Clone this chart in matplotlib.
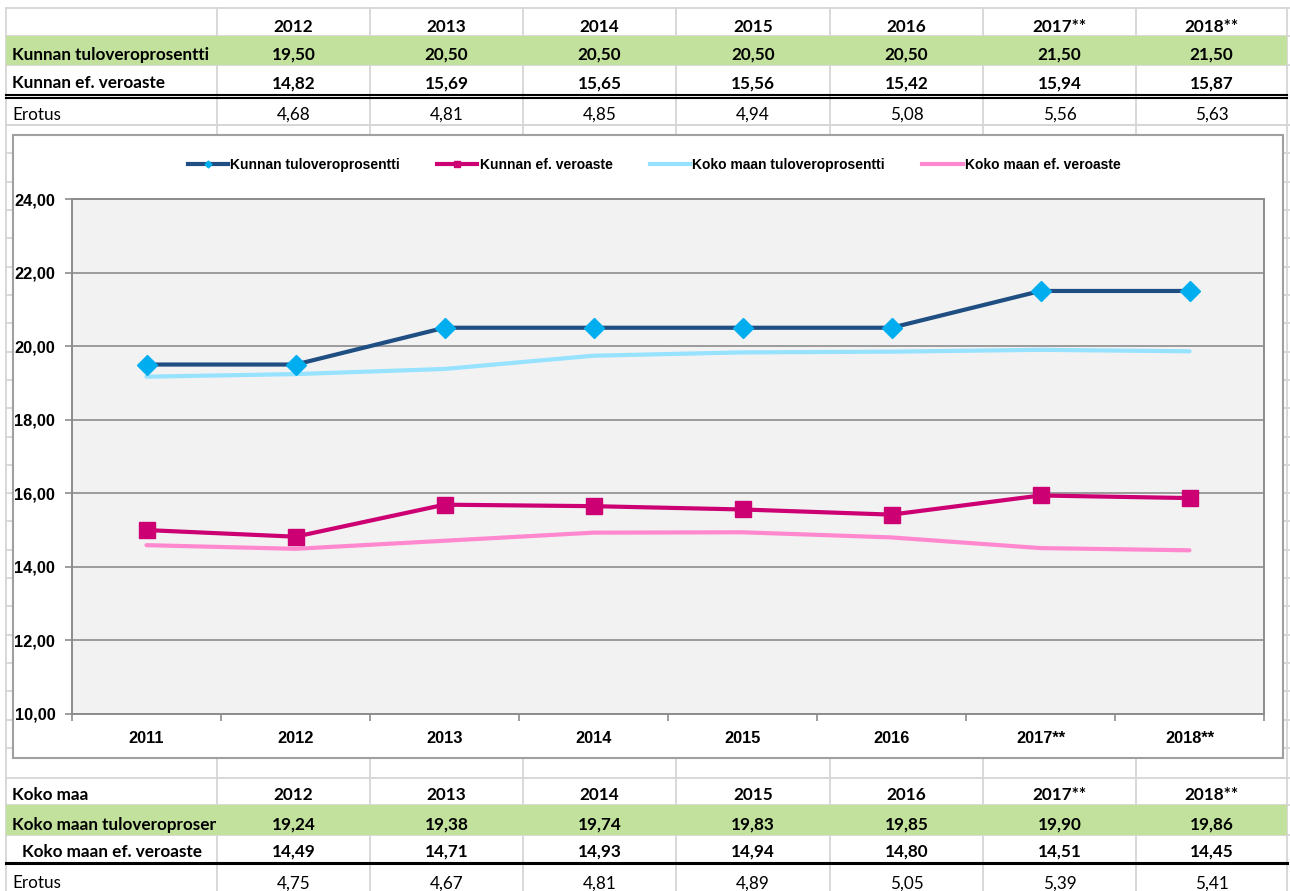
import numpy as np
import matplotlib
matplotlib.use("Agg")
import matplotlib.pyplot as plt
from matplotlib.patches import Rectangle
from matplotlib.lines import Line2D
from matplotlib.ticker import FuncFormatter
from matplotlib.transforms import Bbox, TransformedBbox

# ---------------- data ----------------
chart_years = ['2011', '2012', '2013', '2014', '2015', '2016', '2017**', '2018**']
table_years = chart_years[1:]
kunta_tulovero = [19.50, 19.50, 20.50, 20.50, 20.50, 20.50, 21.50, 21.50]
kunta_ef = [15.00, 14.82, 15.69, 15.65, 15.56, 15.42, 15.94, 15.87]
maa_tulovero = [19.17, 19.24, 19.38, 19.74, 19.83, 19.85, 19.90, 19.86]
maa_ef = [14.59, 14.49, 14.71, 14.93, 14.94, 14.80, 14.51, 14.45]

series_names = ['Kunnan tuloveroprosentti', 'Kunnan ef. veroaste',
                'Koko maan tuloveroprosentti', 'Koko maan ef. veroaste']

def fmt(v):
    return f"{v:.2f}".replace('.', ',')

W, H = 1290, 891
fig = plt.figure(figsize=(W / 100, H / 100), dpi=100)
bg = fig.add_axes([0, 0, 1, 1])
bg.set_xlim(0, W)
bg.set_ylim(H, 0)
bg.axis('off')

GRID = '#D6D6D6'
GREEN = '#C2E19D'
TFONT = 'Lato'
TS = 12.3

col_edges = [6, 217, 370, 523, 676, 830, 983, 1136, 1287]
centers = [(col_edges[i] + col_edges[i + 1]) / 2 for i in range(1, 8)]

# spreadsheet gridlines
for x in col_edges:
    bg.plot([x, x], [8, H], color=GRID, lw=1.3, zorder=1)
row_lines = [8, 36, 65, 125] + list(np.linspace(125, 748, 23)) + [778, 805, 835]
for y in row_lines:
    bg.plot([col_edges[0], W], [y, y], color=GRID, lw=1.3, zorder=1)

# green rows
for (y0, y1) in [(36, 65), (805, 835)]:
    bg.add_patch(Rectangle((col_edges[0], y0), col_edges[-1] - col_edges[0], y1 - y0,
                           facecolor=GREEN, edgecolor='none', zorder=2))
# black lines
bg.plot([col_edges[0], col_edges[-1]], [94.8, 94.8], color='black', lw=1.5, zorder=3)
bg.plot([col_edges[0], col_edges[-1]], [98.0, 98.0], color='black', lw=1.5, zorder=3)
bg.plot([col_edges[0], col_edges[-1]], [863, 863], color='black', lw=2.2, zorder=3)


def row(label, values, base, bold=True, label_center=False, clip=False, strings=None):
    fw = 'bold' if bold else 'normal'
    if label:
        if label_center:
            t = bg.text((col_edges[0] + col_edges[1]) / 2, base, label, ha='center', va='baseline',
                        fontsize=TS, fontweight=fw, family=TFONT, zorder=4)
        else:
            t = bg.text(12, base, label, ha='left', va='baseline',
                        fontsize=TS, fontweight=fw, family=TFONT, zorder=4)
        if clip:
            bb = Bbox.from_extents(col_edges[0], base - 30, col_edges[1] - 1.5, base + 10)
            t.set_clip_box(TransformedBbox(bb, bg.transData))
            t.set_clip_on(True)
    vals = strings if strings is not None else [fmt(v) for v in values]
    for cx, s in zip(centers, vals):
        bg.text(cx, base, s, ha='center', va='baseline', fontsize=TS,
                fontweight=fw, family=TFONT, zorder=4)


# top table
row('', None, 31.5, strings=table_years)
row('Kunnan tuloveroprosentti', kunta_tulovero[1:], 60)
row('Kunnan ef. veroaste', kunta_ef[1:], 88.5)
row('Erotus', [a - b for a, b in zip(kunta_tulovero[1:], kunta_ef[1:])], 120, bold=False)
# bottom table
row('Koko maa', None, 800.5, strings=table_years)
row('Koko maan tuloveroprosentti', maa_tulovero[1:], 830, clip=True)
row('Koko maan ef. veroaste', maa_ef[1:], 857, label_center=True)
row('Erotus', [a - b for a, b in zip(maa_tulovero[1:], maa_ef[1:])], 888.5, bold=False)

# chart box
bg.add_patch(Rectangle((13, 135), 1283 - 13, 758 - 135, facecolor='white',
                       edgecolor='#A0A0A0', lw=1.5, zorder=5))

# ---------------- chart ----------------
L, R, T, B = 72, 1264, 199, 714
ax = fig.add_axes([L / W, 1 - B / H, (R - L) / W, (B - T) / H])
ax.set_facecolor('#F2F2F2')
x = np.arange(len(chart_years))

ax.plot(x, maa_tulovero, color='#96E2FF', lw=3.0, solid_capstyle='round', zorder=3)
ax.plot(x, maa_ef, color='#FF88CE', lw=3.0, solid_capstyle='round', zorder=3)
ax.plot(x, kunta_tulovero, color='#1F4E82', lw=3.0, marker='D', ms=10,
        markerfacecolor='#00AEEF', markeredgecolor='#00AEEF', zorder=4)
ax.plot(x, kunta_ef, color='#CC0073', lw=3.0, marker='s', ms=11.5,
        markerfacecolor='#CC0073', markeredgecolor='#CC0073', zorder=4)

ax.set_xlim(-0.5, len(chart_years) - 0.5)
ax.set_ylim(10, 24)
ax.set_yticks(np.arange(10, 25, 2))
ax.yaxis.set_major_formatter(FuncFormatter(lambda v, p: fmt(v)))
ax.grid(axis='y', color='#8C8C8C', lw=1.2, zorder=1)
ax.set_axisbelow(True)
ax.set_xticks(x, chart_years)
ax.set_xticks(np.arange(-0.5, len(chart_years)), minor=True)
ax.tick_params(axis='x', which='major', length=0, pad=12)
ax.tick_params(axis='x', which='minor', length=5, color='#8C8C8C', width=1.2)
ax.tick_params(axis='y', length=5, color='#8C8C8C', width=1.2, pad=7)
for lab in ax.get_xticklabels() + ax.get_yticklabels():
    lab.set_family('Liberation Sans')
    lab.set_fontweight('bold')
    lab.set_fontsize(11.8)
for s in ax.spines.values():
    s.set_color('#8C8C8C')
    s.set_linewidth(1.4)

handles = [
    Line2D([], [], color='#1F4E82', lw=3.0, marker='D', ms=3.5,
           markerfacecolor='#00AEEF', markeredgecolor='#00AEEF'),
    Line2D([], [], color='#CC0073', lw=3.0, marker='s', ms=4.5,
           markerfacecolor='#CC0073', markeredgecolor='#CC0073'),
    Line2D([], [], color='#96E2FF', lw=3.0),
    Line2D([], [], color='#FF88CE', lw=3.0),
]
fig.legend(handles, series_names, loc='center', bbox_to_anchor=(654 / W, 1 - 165 / H),
           ncol=4, frameon=False, handlelength=2.9, handletextpad=0.15,
           columnspacing=2.7, prop={'family': 'Liberation Sans', 'weight': 'bold', 'size': 10})

fig.savefig('out.png', dpi=100)
